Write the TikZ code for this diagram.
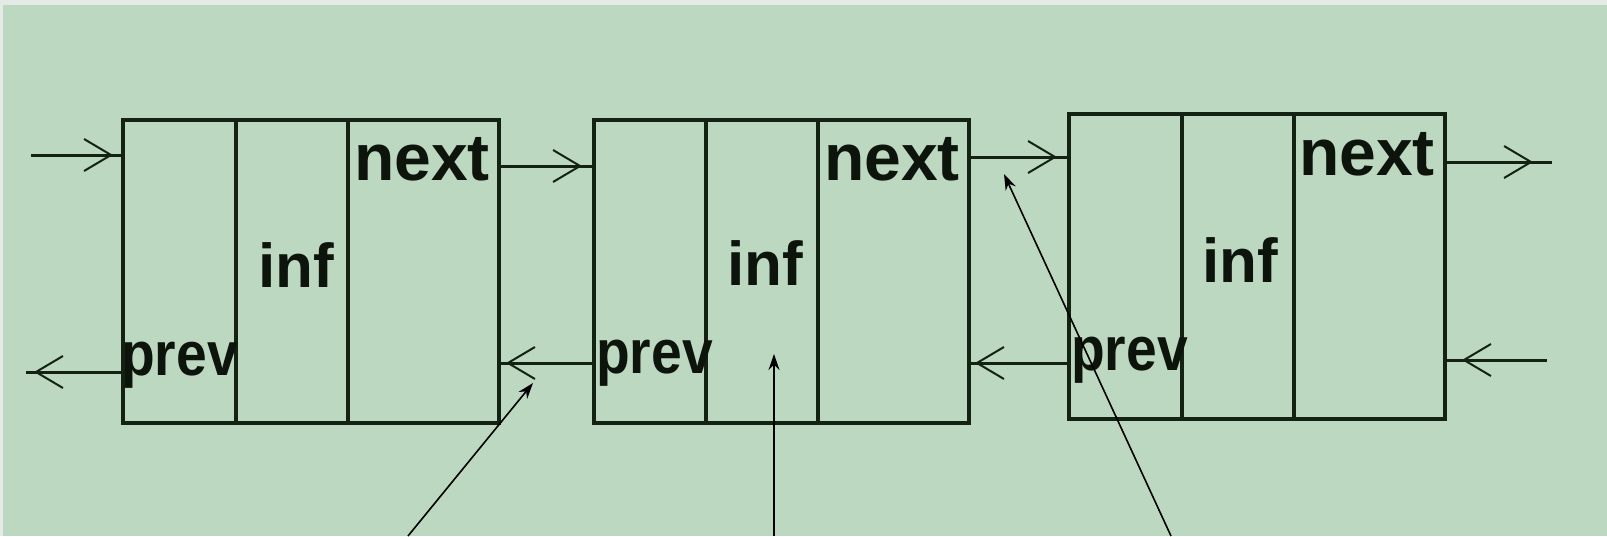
\documentclass[tikz,border=0pt]{standalone}
\usepackage{fontspec}
\usepackage{graphicx}
\setmainfont{Liberation Sans}
\usetikzlibrary{arrows.meta}
\definecolor{bg}{HTML}{BDD8C0}
\definecolor{ink}{HTML}{142214}
\definecolor{txt}{HTML}{0C140C}
\definecolor{rim}{HTML}{E4EAE4}
\begin{document}
\begin{tikzpicture}[x=1pt,y=-1pt,
  cell/.style={draw=ink, line width=3.5pt, inner sep=0pt, outer sep=0pt},
  lbl/.style={text=txt, font=\fontsize{66}{70}\selectfont\bfseries, inner sep=0pt},
  smalllbl/.style={text=txt, font=\fontsize{62}{66}\selectfont\bfseries, inner sep=0pt},
  link/.style={draw=ink, line width=3pt,
    postaction={draw=ink, line width=3pt, shorten >=#1,
      -{Straight Barb[length=27pt,width=32pt,line width=2pt]}}},
  link/.default=12pt,
  ptr/.style={draw=black, line width=1.6pt, -{Stealth[length=16pt,width=11pt]}}]
\fill[rim] (0,0) rectangle (1607,536);
\fill[bg] (3,5) rectangle (1607,536);
\useasboundingbox (0,0) rectangle (1607,536);
% box 1
\node[cell, minimum width=113pt, minimum height=303pt] (b1p) at (179.5,271.5) {};
\node[cell, minimum width=112pt, minimum height=303pt] (b1i) at (292,271.5) {};
\node[cell, minimum width=151pt, minimum height=303pt] (b1n) at (423.5,271.5) {};
% box 2
\node[cell, minimum width=112pt, minimum height=303pt] (b2p) at (650,271.5) {};
\node[cell, minimum width=112pt, minimum height=303pt] (b2i) at (762,271.5) {};
\node[cell, minimum width=151pt, minimum height=303pt] (b2n) at (893.5,271.5) {};
% box 3
\node[cell, minimum width=113pt, minimum height=305pt] (b3p) at (1125.5,266.5) {};
\node[cell, minimum width=112pt, minimum height=305pt] (b3i) at (1238,266.5) {};
\node[cell, minimum width=151pt, minimum height=305pt] (b3n) at (1369.5,266.5) {};
% labels
\node[lbl, anchor=base west] (t1n) at (354,180) {next};
\node[smalllbl, anchor=base] (t1i) at (296.5,287) {inf};
\node[smalllbl, anchor=base west] (t1p) at (121,375) {\scalebox{0.89}[1]{prev}};
\node[lbl, anchor=base west] (t2n) at (824,180) {next};
\node[smalllbl, anchor=base] (t2i) at (765,285) {inf};
\node[smalllbl, anchor=base west] (t2p) at (596,373) {\scalebox{0.89}[1]{prev}};
\node[lbl, anchor=base west] (t3n) at (1299,175) {next};
\node[smalllbl, anchor=base] (t3i) at (1240,282) {inf};
\node[smalllbl, anchor=base west] (t3p) at (1071,370) {\scalebox{0.89}[1]{prev}};
% free ends
\coordinate (inL) at (31,155);
\coordinate (outR) at (1552,162);
\coordinate (outL) at (26,372);
\coordinate (inR) at (1547,360);
% next links
\draw[link=10pt] (inL) -- (b1p.west |- inL);
\draw[link] (b1n.east |- 0,166) -- (b2p.west |- 0,166);
\draw[link] (b2n.east |- 0,157) -- (b3p.west |- 0,157);
\draw[link=19pt] (b3n.east |- outR) -- (outR);
% prev links
\draw[link=8pt] (b1p.west |- outL) -- (outL);
\draw[link=7pt] (b2p.west |- 0,363) -- (b1n.east |- 0,363);
\draw[link=6pt] (b3p.west |- 0,363) -- (b2n.east |- 0,363);
\draw[link=17pt] (inR) -- (b3n.east |- inR);
% pointers
\coordinate (q1) at (408,536);
\coordinate (h1) at (533,383);
\coordinate (q2) at (774,536);
\coordinate (h2) at (774,354);
\coordinate (q3) at (1171,536);
\coordinate (h3) at (1004,174);
\draw[ptr] (q1) -- (h1);
\draw[ptr] (q2) -- (h2);
\draw[ptr] (q3) -- (h3);
\end{tikzpicture}
\end{document}
